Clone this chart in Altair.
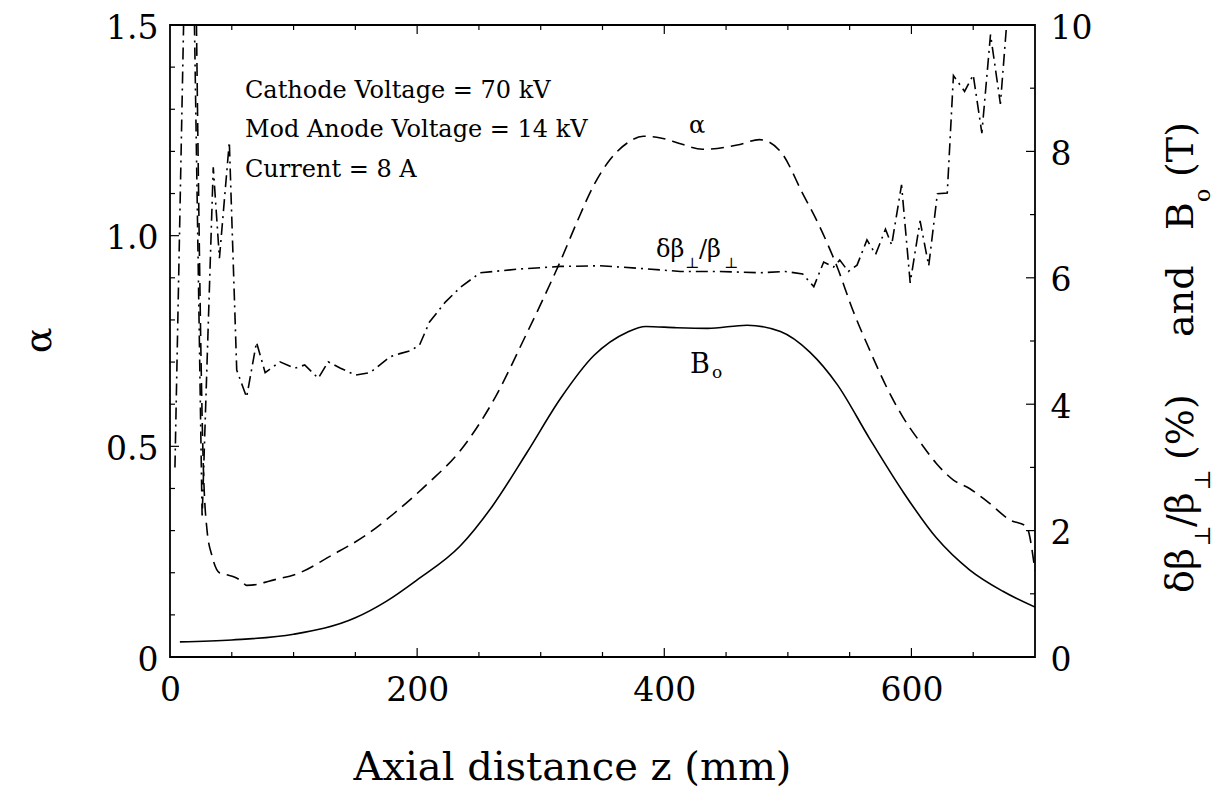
import altair as alt
import pandas as pd

# ---------------- data ----------------
alpha_z = [21, 27, 30, 34, 40, 46, 52, 58, 62, 70, 80, 105, 130, 159, 181, 208, 235, 261,
           289, 302, 316, 329, 343, 356, 370, 383, 397, 413, 431, 459, 477, 494, 512, 526,
           540, 553, 566, 580, 593, 607, 620, 634, 647, 661, 680, 693, 700]
alpha_v = [1.6, 0.45, 0.3, 0.24, 0.2, 0.195, 0.19, 0.18, 0.17, 0.172, 0.18, 0.20, 0.24, 0.29,
           0.34, 0.41, 0.49, 0.605, 0.77, 0.85, 0.94, 1.03, 1.12, 1.18, 1.22, 1.236, 1.232,
           1.218, 1.205, 1.215, 1.228, 1.2, 1.1, 1.02, 0.925, 0.82, 0.73, 0.64, 0.57, 0.51,
           0.46, 0.42, 0.40, 0.37, 0.325, 0.31, 0.205]

dbeta_z = [4, 12, 19, 26, 35, 40, 48, 54, 62, 70, 77, 89, 101, 109, 120, 128, 138, 150, 162,
           178, 186, 195, 202, 210, 223, 235, 251, 283, 316, 348, 380, 413, 445, 477, 498,
           512, 521, 529, 537, 542, 549, 556, 564, 571, 579, 584, 592, 599, 607, 614, 621,
           629, 634, 643, 650, 657, 664, 672, 677]
dbeta_v = [3.0, 11.0, 11.0, 2.2, 7.75, 6.31, 8.15, 4.54, 4.11, 4.98, 4.5, 4.67, 4.57, 4.62,
           4.41, 4.67, 4.57, 4.46, 4.5, 4.75, 4.8, 4.85, 4.94, 5.3, 5.62, 5.85, 6.08, 6.14,
           6.18, 6.19, 6.15, 6.1, 6.1, 6.08, 6.1, 6.06, 5.86, 6.25, 6.17, 6.28, 6.1, 6.2,
           6.6, 6.37, 6.77, 6.52, 7.47, 5.92, 6.9, 6.19, 7.33, 7.34, 9.2, 8.95, 9.21, 8.29,
           9.85, 8.75, 10.0]

b0_z = [8, 50, 100, 150, 175, 200, 235, 261, 289, 316, 343, 370, 385, 410, 435, 467, 494,
        518, 540, 566, 593, 620, 647, 674, 700]
b0_v = [0.24, 0.27, 0.36, 0.62, 0.88, 1.22, 1.76, 2.39, 3.24, 4.09, 4.77, 5.14, 5.23, 5.21,
        5.2, 5.25, 5.15, 4.82, 4.31, 3.46, 2.62, 1.89, 1.38, 1.04, 0.79]

x_labels = [0, 200, 400, 600]
x_major_ticks = [200, 400, 600]
x_minor_ticks = [50, 100, 150, 250, 300, 350, 450, 500, 550, 650]
left_labels = [0, 0.5, 1.0, 1.5]
left_major_ticks = [0.5, 1.0]
left_minor_ticks = [0.1, 0.2, 0.3, 0.4, 0.6, 0.7, 0.8, 0.9, 1.1, 1.2, 1.3, 1.4]
right_labels = [0, 2, 4, 6, 8, 10]
right_major_ticks = [2, 4, 6, 8]
right_minor_ticks = [1, 3, 5, 7, 9]

notes = ["Cathode Voltage = 70 kV", "Mod Anode Voltage = 14 kV", "Current = 8 A"]
x_title = "Axial distance z (mm)"
left_title = "α"

# ---------------- styling ----------------
W, H = 865, 632
FONT = "DejaVu Serif"
LW = 1.6
MINOR, MAJOR = 5, 9

xs = alt.Scale(domain=[0, 700], nice=False, zero=False)
yl = alt.Scale(domain=[0, 1.5], nice=False)
yr = alt.Scale(domain=[0, 10], nice=False)

x_axis = alt.Axis(values=x_labels, ticks=False, domain=False, grid=False,
                  labelFont=FONT, labelFontSize=33, labelPadding=17, labelColor="black",
                  labelFlush=False,
                  title=x_title, titleFont=FONT, titleFontSize=40, titleFontWeight="normal",
                  titleColor="black", titleX=402, titleY=122, titleAlign="center",
                  titleBaseline="alphabetic")

left_axis = alt.Axis(values=left_labels, ticks=False, domain=False, grid=False,
                     labelExpr="datum.value == 0 ? '0' : format(datum.value, '.1f')",
                     labelFont=FONT, labelFontSize=33, labelPadding=12, labelColor="black",
                     labelBound=False, labelOffset=3,
                     title=left_title, titleFont=FONT, titleFontSize=38,
                     titleFontWeight="normal", titleColor="black", titleX=-120, titleY=315,
                     titleAngle=270, titleAlign="center", titleBaseline="alphabetic")

right_axis = alt.Axis(orient="right", values=right_labels, ticks=False, domain=False,
                      grid=False, format="d", labelFont=FONT, labelFontSize=33,
                      labelPadding=15, labelColor="black", labelBound=False, labelOffset=3,
                      title="")


def df(**cols):
    return pd.DataFrame(cols)


def xfield():
    return alt.X("z:Q", scale=xs, axis=x_axis)


def ylf():
    return alt.Y("v:Q", scale=yl, axis=left_axis)


def yrf():
    return alt.Y("v:Q", scale=yr, axis=right_axis)


def text_at(t, x, y, size, angle=0, align="left"):
    kw = dict(font=FONT, fontSize=size, align=align, baseline="alphabetic", color="black")
    if angle:
        kw["angle"] = angle
    return alt.Chart(df(t=[t])).mark_text(**kw).encode(
        text="t:N", x=alt.value(x), y=alt.value(y))


def rule(d):
    return alt.Chart(d).mark_rule(color="black", strokeWidth=1.2)


# ---------------- left (alpha) group ----------------
alpha_line = alt.Chart(df(z=alpha_z, v=alpha_v)).mark_line(
    color="black", strokeWidth=LW, strokeDash=[13, 7], clip=True, interpolate="monotone"
).encode(x=xfield(), y=ylf())

bottom_major = rule(df(z=x_major_ticks)).encode(x=xfield(), y=alt.value(H), y2=alt.value(H - MAJOR))
bottom_minor = rule(df(z=x_minor_ticks)).encode(x=xfield(), y=alt.value(H), y2=alt.value(H - MINOR))
top_major = rule(df(z=x_major_ticks)).encode(x=xfield(), y=alt.value(0), y2=alt.value(MAJOR))
top_minor = rule(df(z=x_minor_ticks)).encode(x=xfield(), y=alt.value(0), y2=alt.value(MINOR))
left_major = rule(df(v=left_major_ticks)).encode(y=ylf(), x=alt.value(0), x2=alt.value(MAJOR))
left_minor = rule(df(v=left_minor_ticks)).encode(y=ylf(), x=alt.value(0), x2=alt.value(MINOR))

texts = [
    text_at(notes[0], 75, 73, 24),
    text_at(notes[1], 75, 112, 24),
    text_at(notes[2], 75, 152, 24),
    # curve labels
    text_at("α", 527, 108, 24, align="center"),
    text_at("δβ", 486, 232, 24),
    text_at("⊥", 515, 243, 15),
    text_at("/β", 529, 232, 24),
    text_at("⊥", 554, 243, 15),
    text_at("B", 520, 348, 27),
    text_at("o", 542, 353, 17),
    # right axis title (rotated, read bottom to top)
    text_at("δβ", 1023, 568, 38, angle=270),
    text_at("⊥", 1040, 521, 22, angle=270),
    text_at("/β", 1023, 502, 38, angle=270),
    text_at("⊥", 1040, 465, 22, angle=270),
    text_at("(%)", 1023, 435, 38, angle=270),
    text_at("and", 1023, 312, 38, angle=270),
    text_at("B", 1023, 205, 38, angle=270),
    text_at("o", 1040, 177, 22, angle=270),
    text_at("(T)", 1023, 152, 38, angle=270),
]

left_group = alt.layer(alpha_line, bottom_major, bottom_minor, top_major, top_minor,
                       left_major, left_minor, *texts)

# ---------------- right group ----------------
b0_line = alt.Chart(df(z=b0_z, v=b0_v)).mark_line(
    color="black", strokeWidth=LW, clip=True, interpolate="monotone"
).encode(x=xfield(), y=yrf())

dbeta_line = alt.Chart(df(z=dbeta_z, v=dbeta_v)).mark_line(
    color="black", strokeWidth=LW, strokeDash=[12, 5, 2, 5], clip=True
).encode(x=xfield(), y=yrf())

right_major = rule(df(v=right_major_ticks)).encode(y=yrf(), x=alt.value(W), x2=alt.value(W - MAJOR))
right_minor = rule(df(v=right_minor_ticks)).encode(y=yrf(), x=alt.value(W), x2=alt.value(W - MINOR))

right_group = alt.layer(b0_line, dbeta_line, right_major, right_minor)

chart = alt.layer(left_group, right_group).resolve_scale(y="independent").properties(
    width=W, height=H,
    padding={"left": 162, "top": 17, "right": 180, "bottom": 131},
    autosize=alt.AutoSizeParams(type="none"),
    background="white",
).configure_view(stroke="black", strokeWidth=1.8)

chart.save("out.html", embed_options={"renderer": "svg", "actions": False})
